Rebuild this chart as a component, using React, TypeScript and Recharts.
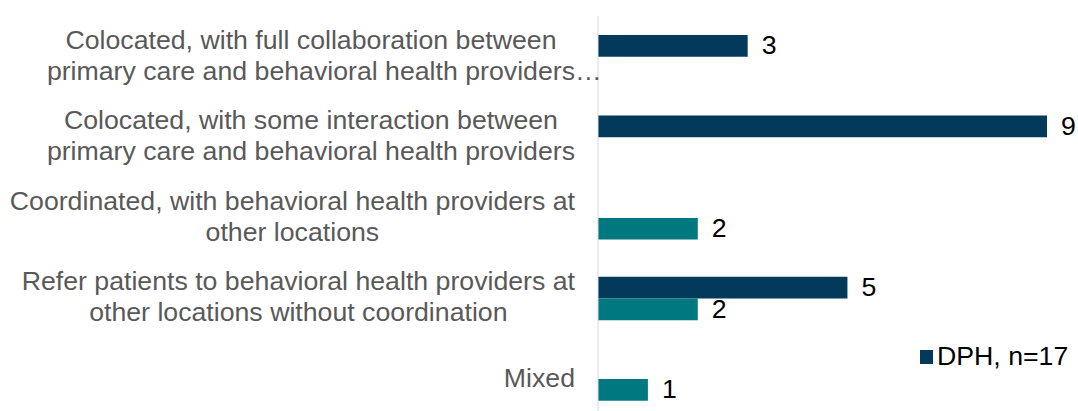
import React from 'react';
import { BarChart, Bar, XAxis, YAxis, Legend, LabelList } from 'recharts';

const categories = [
  'Colocated, with full collaboration between\nprimary care and behavioral health providers…',
  'Colocated, with some interaction between\nprimary care and behavioral health providers',
  'Coordinated, with behavioral health providers at\nother locations',
  'Refer patients to behavioral health providers at\nother locations without coordination',
  'Mixed',
];
const dphValues: (number | null)[] = [3, 9, null, 5, null];
const otherValues: (number | null)[] = [null, null, 2, 2, 1];

const DARK = '#033a5b';
const TEAL = '#00787f';
const FONT = "'Liberation Sans', Arial, sans-serif";
const FONT_SIZE = 26.7;

const data = categories.map((name, i) => ({ name, dph: dphValues[i], other: otherValues[i] }));

let ctx: CanvasRenderingContext2D | null = null;
const measure = (s: string) => {
  if (!ctx) {
    ctx = document.createElement('canvas').getContext('2d');
  }
  if (!ctx) return s.length * FONT_SIZE * 0.5;
  ctx.font = `${FONT_SIZE}px 'Liberation Sans'`;
  return ctx.measureText(s).width;
};

// label block sits right-aligned at 575, each line centered inside the block
const CategoryTick: React.FC<any> = ({ y, payload }) => {
  const lines: string[] = String(payload.value).split('\n');
  const core = lines.map(l => l.replace(/…$/, ''));
  const blockW = Math.max(...core.map(measure));
  const center = 575 - blockW / 2;
  const lh = 31;
  const top = y - ((lines.length - 1) * lh) / 2;
  return (
    <g>
      {lines.map((line, i) => (
        <text
          key={i}
          x={center - measure(core[i]) / 2}
          y={top + i * lh + 7.8}
          textAnchor="start"
          fill="#595959"
          fontFamily={FONT}
          fontSize={FONT_SIZE}
        >
          {line}
        </text>
      ))}
    </g>
  );
};

const ValueLabel: React.FC<any> = ({ x, y, width, height, value }) => {
  if (value === null || value === undefined) return null;
  return (
    <text x={x + width + 14} y={y + height / 2 + 8.5} fill="#000" fontFamily={FONT} fontSize={FONT_SIZE}>
      {value}
    </text>
  );
};

const LegendBox: React.FC<any> = () => (
  <div style={{ display: 'flex', alignItems: 'center', fontFamily: FONT, fontSize: FONT_SIZE, color: '#000', whiteSpace: 'nowrap' }}>
    <span style={{ display: 'inline-block', width: 13, height: 14, background: DARK, marginRight: 4 }} />
    <span>DPH, n=17</span>
  </div>
);

export default function App() {
  return (
    <div style={{ position: 'absolute', left: 0, top: 0, width: 1078, height: 411, overflow: 'hidden', background: '#fff' }}>
      <BarChart
        width={1078}
        height={420}
        data={data}
        layout="vertical"
        margin={{ top: 16, right: 31, left: 0, bottom: 1 }}
        barGap={0}
      >
        <XAxis type="number" domain={[0, 9]} hide />
        <YAxis
          type="category"
          dataKey="name"
          width={598}
          axisLine={{ stroke: '#d9d9d9', strokeWidth: 1 }}
          tickLine={false}
          tick={<CategoryTick />}
          interval={0}
        />
        <Legend
          layout="vertical"
          align="center"
          verticalAlign="middle"
          content={<LegendBox />}
          wrapperStyle={{ position: 'absolute', left: 920, top: 341, width: 155 }}
        />
        <Bar dataKey="dph" name="DPH, n=17" fill={DARK} barSize={21.7} isAnimationActive={false}>
          <LabelList dataKey="dph" content={<ValueLabel />} />
        </Bar>
        <Bar dataKey="other" name="Other" fill={TEAL} barSize={21.7} legendType="none" isAnimationActive={false}>
          <LabelList dataKey="other" content={<ValueLabel />} />
        </Bar>
      </BarChart>
    </div>
  );
}
